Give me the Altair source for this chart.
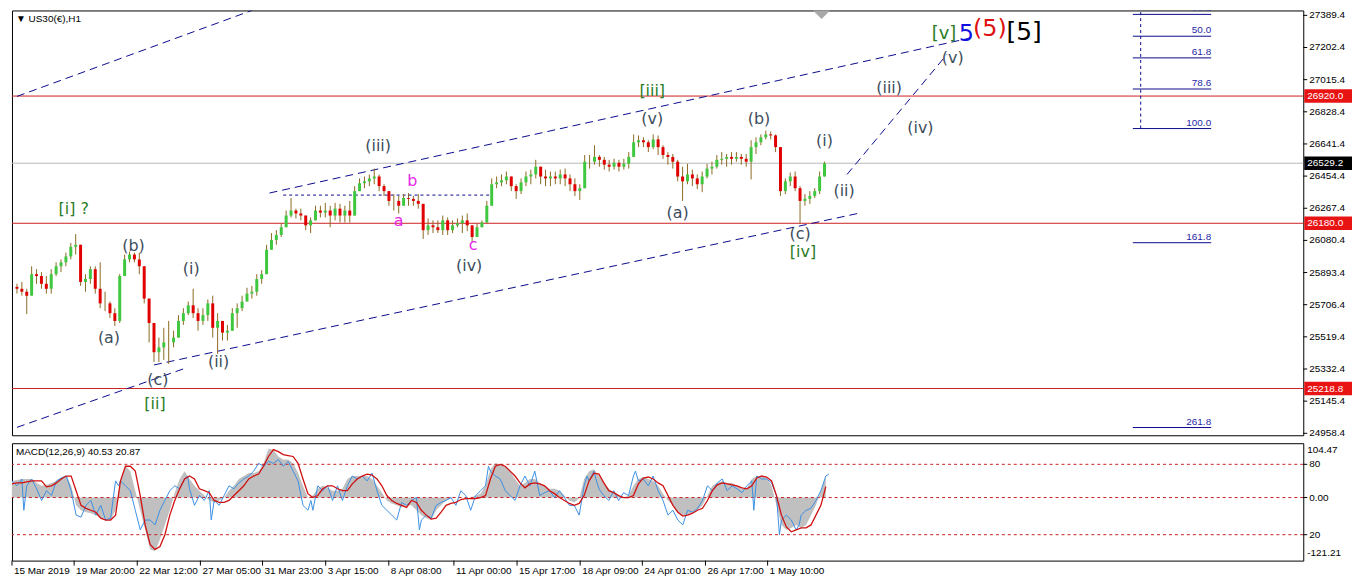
import altair as alt
import pandas as pd

W, HM, HD = 1298, 427, 118
XMAX = 1309
PMIN, PMAX = 24947.0, 27417.8
MMIN, MMAX = -121.21, 104.47
FONT = "Liberation Sans"
WFONT = "DejaVu Sans"

# ---------------- price bars (one bar per 5 hourly slots) ----------------
hours = list(range(0, 826, 5))
highs = [
    25828, 25839, 25799, 25930, 25913, 25896, 25873, 25913, 25953, 25970,
    26009, 26066, 26117, 25970, 25884, 25930, 25930, 25953, 25782, 25725,
    25686, 25884, 25998, 26015, 26009, 26009, 25930, 25742, 25544, 25515,
    25572, 25612, 25555, 25646, 25686, 25725, 25799, 25686, 25686, 25737,
    25759, 25657, 25612, 25589, 25686, 25714, 25759, 25805, 25816, 25884,
    25907, 26055, 26123, 26140, 26180, 26254, 26327, 26265, 26265, 26225,
    26214, 26282, 26282, 26299, 26282, 26299, 26293, 26282, 26310, 26396,
    26441, 26452, 26464, 26498, 26464, 26407, 26367, 26350, 26339, 26350,
    26356, 26339, 26350, 26282, 26208, 26197, 26197, 26225, 26214, 26197,
    26208, 26225, 26237, 26168, 26180, 26197, 26310, 26441, 26452, 26464,
    26481, 26452, 26407, 26441, 26481, 26492, 26549, 26509, 26492, 26481,
    26481, 26492, 26498, 26464, 26441, 26407, 26577, 26577, 26634, 26577,
    26566, 26549, 26555, 26549, 26555, 26594, 26697, 26691, 26680, 26663,
    26697, 26691, 26634, 26594, 26583, 26549, 26509, 26526, 26492, 26464,
    26481, 26526, 26538, 26577, 26594, 26583, 26594, 26594, 26583, 26583,
    26663, 26680, 26697, 26719, 26714, 26697, 26623, 26441, 26475, 26481,
    26396, 26350, 26367, 26384, 26481, 26538]
lows = [
    25771, 25759, 25652, 25816, 25828, 25799, 25771, 25771, 25873, 25896,
    25930, 25970, 25998, 25816, 25782, 25828, 25771, 25686, 25669, 25629,
    25583, 25600, 25873, 25953, 25953, 25884, 25714, 25487, 25373, 25373,
    25385, 25362, 25458, 25515, 25589, 25646, 25629, 25555, 25589, 25612,
    25515, 25419, 25498, 25498, 25572, 25572, 25669, 25725, 25742, 25759,
    25828, 25884, 26026, 26055, 26100, 26157, 26214, 26208, 26197, 26140,
    26123, 26197, 26214, 26214, 26157, 26197, 26185, 26185, 26185, 26282,
    26367, 26384, 26396, 26407, 26367, 26339, 26282, 26254, 26237, 26282,
    26282, 26282, 26265, 26089, 26112, 26123, 26123, 26112, 26112, 26123,
    26157, 26123, 26134, 26072, 26100, 26157, 26180, 26282, 26384, 26396,
    26407, 26367, 26322, 26350, 26396, 26407, 26441, 26407, 26396, 26396,
    26407, 26407, 26396, 26367, 26339, 26316, 26384, 26498, 26521, 26509,
    26492, 26481, 26492, 26481, 26492, 26498, 26577, 26623, 26623, 26594,
    26611, 26577, 26555, 26521, 26498, 26424, 26310, 26407, 26396, 26379,
    26361, 26441, 26464, 26498, 26521, 26509, 26521, 26538, 26521, 26509,
    26435, 26583, 26634, 26668, 26668, 26594, 26339, 26350, 26396, 26367,
    26180, 26282, 26293, 26327, 26350, 26452]
closes = [
    25799, 25782, 25759, 25884, 25873, 25828, 25799, 25884, 25930, 25953,
    25987, 26043, 26055, 25839, 25856, 25913, 25799, 25714, 25714, 25657,
    25612, 25873, 25970, 25998, 25970, 25930, 25742, 25600, 25430, 25458,
    25487, 25487, 25515, 25612, 25657, 25703, 25657, 25612, 25646, 25714,
    25572, 25612, 25544, 25555, 25657, 25686, 25725, 25771, 25782, 25856,
    25884, 26026, 26083, 26112, 26157, 26225, 26254, 26237, 26225, 26168,
    26197, 26254, 26242, 26254, 26225, 26265, 26225, 26254, 26225, 26367,
    26413, 26424, 26441, 26452, 26396, 26367, 26310, 26310, 26282, 26327,
    26322, 26310, 26293, 26140, 26168, 26157, 26140, 26197, 26140, 26168,
    26180, 26197, 26168, 26100, 26157, 26185, 26282, 26407, 26418, 26430,
    26452, 26396, 26367, 26418, 26452, 26464, 26509, 26452, 26441, 26452,
    26441, 26464, 26441, 26407, 26367, 26384, 26538, 26538, 26566, 26549,
    26521, 26509, 26532, 26509, 26526, 26566, 26651, 26663, 26651, 26623,
    26668, 26623, 26577, 26566, 26538, 26452, 26424, 26464, 26441, 26407,
    26452, 26498, 26509, 26549, 26555, 26566, 26555, 26566, 26555, 26538,
    26623, 26651, 26680, 26697, 26691, 26623, 26367, 26424, 26452, 26384,
    26310, 26322, 26339, 26367, 26452, 26529]
first_open = 25810
assert len(highs) == len(lows) == len(closes) == len(hours)

# ---------------- MACD ----------------
macd_hist = [
    32.0, 33.8, 35.7, 35.7, 35.7, 28.2, 22.6, 24.4, 28.2, 32.0,
    37.6, 43.2, 22.6, -15.0, -24.4, -28.2, -30.1, -33.8, -39.5, -41.4,
    -43.2, -24.4, 32.0, 60.2, 50.8, 13.2, -24.4, -62.0, -99.6, -103.4,
    -80.8, -52.6, -24.4, 9.4, 35.7, 50.8, 35.7, 22.6, 13.2, 3.8,
    -5.6, -9.4, -5.6, 0.0, 13.2, 22.6, 35.7, 41.4, 47.0, 47.0,
    50.8, 65.8, 94.0, 92.1, 79.0, 73.3, 73.3, 65.8, 47.0, 22.6,
    0.0, 3.8, 16.9, 22.6, 18.8, 13.2, 13.2, 16.9, 35.7, 41.4,
    41.4, 41.4, 41.4, 35.7, 22.6, 9.4, -5.6, -11.3, -15.0, -18.8,
    -15.0, -15.0, -24.4, -33.8, -39.5, -43.2, -24.4, -15.0, -5.6, -1.9,
    0.0, 0.0, 0.0, 0.0, 3.8, 7.5, 22.6, 54.5, 65.8, 63.9,
    60.2, 50.8, 35.7, 22.6, 28.2, 35.7, 35.7, 28.2, 22.6, 16.9,
    16.9, 13.2, 3.8, -5.6, -9.4, -1.9, 35.7, 50.8, 54.5, 41.4,
    28.2, 16.9, 9.4, 3.8, 0.0, 3.8, 22.6, 35.7, 39.5, 35.7,
    32.0, 22.6, 7.5, -5.6, -15.0, -28.2, -33.8, -33.8, -28.2, -24.4,
    -15.0, 3.8, 22.6, 28.2, 32.0, 28.2, 28.2, 22.6, 16.9, 16.9,
    35.7, 41.4, 41.4, 37.6, 22.6, -15.0, -52.6, -62.0, -58.3, -52.6,
    -58.3, -52.6, -33.8, -15.0, 13.2, 40.5]
macd_signal = [
    26.3, 28.2, 28.2, 30.1, 32.0, 32.0, 32.0, 20.7, 22.6, 28.2,
    35.7, 41.4, 41.4, 13.2, -15.0, -20.7, -24.4, -28.2, -39.5, -43.2,
    -43.2, -33.8, 32.0, 60.2, 60.2, 50.8, 3.8, -52.6, -90.2, -99.6,
    -94.0, -71.4, -33.8, -5.6, 16.9, 35.7, 41.4, 35.7, 16.9, 13.2,
    9.4, -5.6, -9.4, -9.4, -5.6, 3.8, 13.2, 22.6, 35.7, 41.4,
    45.1, 60.2, 79.0, 92.1, 88.4, 82.7, 80.8, 79.0, 65.8, 35.7,
    7.5, 0.0, 3.8, 16.9, 22.6, 22.6, 16.9, 13.2, 13.2, 26.3,
    35.7, 41.4, 45.1, 43.2, 35.7, 22.6, 3.8, -5.6, -11.3, -15.0,
    -18.8, -5.6, -9.4, -24.4, -33.8, -41.4, -39.5, -28.2, -15.0, -11.3,
    -9.4, -3.8, -1.9, -1.9, -1.9, 0.0, 3.8, 35.7, 60.2, 63.9,
    60.2, 50.8, 41.4, 28.2, 18.8, 26.3, 28.2, 26.3, 22.6, 13.2,
    7.5, 0.0, -5.6, -11.3, -15.0, -11.3, 3.8, 32.0, 47.0, 45.1,
    28.2, 13.2, 9.4, 3.8, 0.0, 0.0, 3.8, 26.3, 37.6, 39.5,
    35.7, 28.2, 22.6, 3.8, -15.0, -28.2, -35.7, -33.8, -30.1, -24.4,
    -20.7, -5.6, 13.2, 24.4, 28.2, 26.3, 24.4, 22.6, 18.8, 16.9,
    22.6, 37.6, 41.4, 39.5, 32.0, 3.8, -33.8, -56.4, -65.8, -62.0,
    -58.3, -58.3, -52.6, -33.8, -15.0, 20.9]
assert len(macd_hist) == len(macd_signal) == len(hours)

blue_line = [
    (0, 32.0), (5, 22.6), (10, 35.7), (12, -24.4), (15, 22.6), (20, 35.7), (25, 16.9), (30, -5.6),
    (35, 13.2), (40, 3.8), (45, 32.0), (50, 37.6), (55, 41.4), (60, 13.2), (65, -33.8), (70, -37.6),
    (75, -15.0), (80, -5.6), (85, -33.8), (90, -15.0), (95, -43.2), (100, -39.5), (105, 32.0), (108, 22.6),
    (110, 32.0), (115, 22.6), (120, 13.2), (125, -24.4), (130, -62.0), (135, -43.2), (140, -43.2), (145, -52.6),
    (150, -24.4), (155, -5.6), (160, 13.2), (165, 22.6), (170, 16.9), (175, 35.7), (178, 41.4), (180, 16.9),
    (185, -15.0), (190, 3.8), (195, -5.6), (200, 13.2), (202, -43.2), (205, -5.6), (210, -15.0), (215, 3.8),
    (220, 22.6), (225, 16.9), (230, 28.2), (235, 35.7), (240, 41.4), (245, 50.8), (250, 65.8), (255, 60.2),
    (260, 69.6), (265, 65.8), (270, 73.3), (275, 60.2), (280, 69.6), (285, 50.8), (290, 32.0), (295, -15.0),
    (300, -24.4), (303, -5.6), (305, -24.4), (310, 22.6), (315, 13.2), (320, 22.6), (325, -5.6), (330, 22.6),
    (335, -5.6), (340, 22.6), (345, 41.4), (350, 35.7), (355, 41.4), (360, 32.0), (365, 47.0), (370, 13.2),
    (375, -15.0), (380, -24.4), (385, -33.8), (390, -43.2), (395, -9.4), (400, -15.0), (405, -5.6), (410, 0.0),
    (413, -62.0), (415, -43.2), (420, -33.8), (425, -39.5), (430, -15.0), (435, -9.4), (440, -5.6), (445, 0.0),
    (450, -15.0), (455, 13.2), (460, 3.8), (465, -24.4), (470, 3.8), (475, 13.2), (480, 22.6), (483, 60.2),
    (485, 50.8), (490, 41.4), (495, 35.7), (500, 13.2), (505, 3.8), (510, -5.6), (515, 22.6), (520, 41.4),
    (525, 22.6), (530, 50.8), (535, 3.8), (540, 9.4), (545, 13.2), (550, 0.0), (555, 13.2), (560, 0.0),
    (565, -15.0), (570, -15.0), (575, -33.8), (580, 22.6), (583, 41.4), (585, 32.0), (590, 50.8), (592, 35.7),
    (595, 16.9), (600, 3.8), (605, -5.6), (610, 13.2), (615, -5.6), (620, 9.4), (625, 3.8), (630, 41.4),
    (632, 50.8), (635, 32.0), (640, 35.7), (645, 22.6), (650, 41.4), (655, 13.2), (660, -5.6), (665, -33.8),
    (670, -24.4), (675, -43.2), (680, -52.6), (685, -24.4), (690, -28.2), (695, -20.7), (700, -5.6), (705, 22.6),
    (710, 13.2), (715, 28.2), (720, 35.7), (725, 13.2), (730, 22.6), (735, 16.9), (740, 9.4), (745, 22.6),
    (750, 32.0), (752, -24.4), (755, 41.4), (760, 35.7), (765, 35.7), (770, 28.2), (775, 3.8), (778, -71.4),
    (780, -43.2), (785, -33.8), (790, -43.2), (795, -62.0), (798, -52.6), (800, -33.8), (805, -24.4), (810, -20.7),
    (815, -5.6), (820, 13.2), (825, 41.4), (828, 45.1)]
macd_levels = [63.9, 0.0, -71.4]
macd_level_labels = ["80", "0.00", "20"]

# ---------------- axes / levels ----------------
price_ticks = [27389.4, 27202.4, 27015.4, 26828.4, 26641.4, 26454.4, 26267.4,
               26080.4, 25893.4, 25706.4, 25519.4, 25332.4, 25145.4, 24958.4]
red_levels = [26920.0, 26180.0, 25218.8]
last_price = 26529.2
date_ticks = [0, 63, 127, 191, 254, 318, 382, 448, 512, 576, 639, 703, 766]
date_labels = ["15 Mar 2019", "19 Mar 20:00", "22 Mar 12:00", "27 Mar 05:00",
               "31 Mar 23:00", "3 Apr 15:00", "8 Apr 08:00", "11 Apr 00:00",
               "15 Apr 17:00", "18 Apr 09:00", "24 Apr 01:00", "26 Apr 17:00",
               "1 May 10:00"]

# trend lines (hour, price) -> (hour, price)
tl_x1 = [0, 0, 140, 258, 848, 272, 1148]
tl_p1 = [26918, 24993, 25356, 26356, 26464, 26344, 26731]
tl_x2 = [240, 170, 863, 975, 950, 483, 1148]
tl_p2 = [27418, 25333, 26242, 27259, 27162, 26344, 27418]
tl_dash = ["long", "long", "long", "long", "long", "short", "short"]

fib_labels = ["38.2", "50.0", "61.8", "78.6", "100.0", "161.8", "261.8"]
fib_prices = [27395, 27268, 27142, 26961, 26731, 26067, 24992]
fib_start, fib_end = 1140, 1220

GRAY, GREEN, MAG = "#3d4d5b", "#2a7d1f", "#e629e6"
wl_text = ["[i] ?", "(b)", "(a)", "(c)", "[ii]", "(i)", "(ii)", "(iii)", "b", "a", "c", "(iv)",
           "[iii]", "(v)", "(a)", "(b)", "(i)", "(ii)", "(c)", "[iv]", "(iii)", "(iv)", "(v)",
           "[v]", "5", "(5)", "[5]"]
wl_x = [58, 119, 94, 144, 141, 178, 206, 369, 404, 390, 466, 462,
        649, 649, 675, 758, 825, 845, 800, 803, 891, 923, 956,
        947, 970, 994, 1029]
wl_p = [26265, 26049, 25510, 25271, 25129, 25913, 25373, 26628, 26424, 26191, 26055, 25930,
        26952, 26788, 26237, 26788, 26657, 26367, 26117, 26015, 26969, 26736, 27140,
        27282, 27282, 27310, 27293]
wl_color = [GREEN, GRAY, GRAY, GRAY, GREEN, GRAY, GRAY, GRAY, MAG, MAG, MAG, GRAY,
            GREEN, GRAY, GRAY, GRAY, GRAY, GRAY, GRAY, GREEN, GRAY, GRAY, GRAY,
            GREEN, "#1010e0", "#e01010", "#000000"]
wl_size = [16] * 23 + [18, 24, 24, 25]

# ---------------- frames ----------------
opens = [first_open] + closes[:-1]
bars = pd.DataFrame({"h": hours, "o": opens, "hi": highs, "lo": lows, "c": closes})
bars["hi"] = bars[["hi", "o", "c"]].max(axis=1)
bars["lo"] = bars[["lo", "o", "c"]].min(axis=1)
bars["dir"] = ["up" if c >= o else "down" for o, c in zip(bars.o, bars.c)]

macd = pd.DataFrame({"h": hours, "hist": macd_hist, "sig": macd_signal})
blue = pd.DataFrame(blue_line, columns=["h", "v"])
trend = pd.DataFrame({"x1": tl_x1, "p1": tl_p1, "x2": tl_x2, "p2": tl_p2, "dash": tl_dash})
fib = pd.DataFrame({"lab": fib_labels, "p": fib_prices,
                    "a": [fib_start] * len(fib_prices), "b": [fib_end] * len(fib_prices)})
waves = pd.DataFrame({"t": wl_text, "h": wl_x, "p": wl_p, "col": wl_color, "s": wl_size})
boxes = pd.DataFrame({"p": red_levels + [last_price],
                      "lab": [f"{v:.1f}" for v in red_levels + [last_price]],
                      "bg": ["#e81414"] * 3 + ["#000000"]})
ptick = pd.DataFrame({"p": price_ticks, "lab": [f"{v:.1f}" for v in price_ticks]})
mlev = pd.DataFrame({"v": macd_levels, "lab": macd_level_labels})
dates = pd.DataFrame({"h": date_ticks, "lab": date_labels})

xs = alt.Scale(domain=[0, XMAX], nice=False, zero=False)
ys = alt.Scale(domain=[PMIN, PMAX], nice=False, zero=False)
ms = alt.Scale(domain=[MMIN, MMAX], nice=False, zero=False)


def X(f):
    return alt.X(f, scale=xs, axis=None)


def YP(f):
    return alt.Y(f, scale=ys, axis=None)


def YM(f):
    return alt.Y(f, scale=ms, axis=None)


txt = dict(font=FONT, fontSize=10, color="black")

# ---------------- main panel ----------------
lvl = alt.Chart(pd.DataFrame({"p": red_levels})).mark_rule(color="#cc2020", strokeWidth=1).encode(
    y=YP("p:Q"))
cur = alt.Chart(pd.DataFrame({"p": [last_price]})).mark_rule(color="#b8b8b8", strokeWidth=1).encode(
    y=YP("p:Q"))
tl = alt.Chart(trend).mark_rule(clip=True, color="#0a0a8c", strokeWidth=1).encode(
    x=X("x1:Q"), x2="x2:Q", y=YP("p1:Q"), y2="p2:Q",
    strokeDash=alt.StrokeDash("dash:N", scale=alt.Scale(domain=["long", "short"],
                                                        range=[[8, 5], [3, 3]]), legend=None))
fibl = alt.Chart(fib).mark_rule(color="#0a0a8c", strokeWidth=1, clip=True).encode(
    x=X("a:Q"), x2="b:Q", y=YP("p:Q"))
fibt = alt.Chart(fib).mark_text(align="right", baseline="bottom", dy=-1, font=FONT, fontSize=10,
                                color="#2626a6", clip=True).encode(
    x=X("b:Q"), y=YP("p:Q"), text="lab:N")
wick = alt.Chart(bars).mark_rule(color="#8c6a22", strokeWidth=1).encode(
    x=X("h:Q"), y=YP("lo:Q"), y2="hi:Q")
body = alt.Chart(bars).mark_bar(size=3).encode(
    x=X("h:Q"), y=YP("o:Q"), y2="c:Q",
    color=alt.Color("dir:N", scale=alt.Scale(domain=["up", "down"], range=["#3fc83f", "#e00000"]),
                    legend=None))
wtxt = alt.Chart(waves).mark_text(font=WFONT, align="center", baseline="middle").encode(
    x=X("h:Q"), y=YP("p:Q"), text="t:N",
    color=alt.Color("col:N", scale=None), size=alt.Size("s:Q", scale=None))
marker = alt.Chart(pd.DataFrame({"h": [822], "p": [PMAX]})).mark_point(
    shape="diamond", filled=True, color="#a8a8a8", size=300, opacity=1, clip=True).encode(
    x=X("h:Q"), y=YP("p:Q"))
title = alt.Chart(pd.DataFrame({"t": ["\u25bc US30(\u20ac),H1"]})).mark_text(
    align="left", baseline="middle", **txt).encode(x=alt.value(4), y=alt.value(9), text="t:N")
# right price scale
pt_tick = alt.Chart(ptick).mark_rule(color="black").encode(
    x=alt.value(W), x2=alt.value(W + 4), y=YP("p:Q"))
pt_lab = alt.Chart(ptick).mark_text(align="left", baseline="middle", **txt).encode(
    x=alt.value(W + 6), y=YP("p:Q"), text="lab:N")
boxr = alt.Chart(boxes).mark_point(shape="M-1,-0.28H1V0.28H-1Z", size=48 * 48, filled=True,
                                   opacity=1, strokeWidth=0).encode(
    x=alt.value(W + 25), y=YP("p:Q"), color=alt.Color("bg:N", scale=None))
boxt = alt.Chart(boxes).mark_text(align="left", baseline="middle", font=FONT, fontSize=10,
                                  color="white").encode(
    x=alt.value(W + 4), y=YP("p:Q"), text="lab:N")

main = alt.layer(lvl, cur, tl, fibl, fibt, wick, body, wtxt, marker, title,
                 pt_tick, pt_lab, boxr, boxt).properties(width=W, height=HM)

# ---------------- MACD panel ----------------
hist = alt.Chart(macd).mark_area(color="#c0c0c0", opacity=1).encode(
    x=X("h:Q"), y=YM("hist:Q"), y2=alt.datum(0))
mlv = alt.Chart(mlev).mark_rule(color="#c82020", strokeDash=[3, 3], strokeWidth=1).encode(
    y=YM("v:Q"))
mlv_tick = alt.Chart(mlev).mark_rule(color="black").encode(
    x=alt.value(W), x2=alt.value(W + 4), y=YM("v:Q"))
mlv_lab = alt.Chart(mlev).mark_text(align="left", baseline="middle", **txt).encode(
    x=alt.value(W + 6), y=YM("v:Q"), text="lab:N")
bl = alt.Chart(blue).mark_line(color="#3b8fe3", strokeWidth=1).encode(x=X("h:Q"), y=YM("v:Q"))
sg = alt.Chart(macd).mark_line(color="#d01010", strokeWidth=1.3).encode(x=X("h:Q"), y=YM("sig:Q"))
mtitle = alt.Chart(pd.DataFrame({"t": ["MACD(12,26,9) 40.53 20.87"]})).mark_text(
    align="left", baseline="middle", **txt).encode(x=alt.value(4), y=alt.value(9), text="t:N")
mtop = alt.Chart(pd.DataFrame({"t": ["104.47"]})).mark_text(
    align="left", baseline="middle", **txt).encode(x=alt.value(W + 4), y=alt.value(7), text="t:N")
mbot = alt.Chart(pd.DataFrame({"t": ["-121.21"]})).mark_text(
    align="left", baseline="middle", **txt).encode(x=alt.value(W + 4), y=alt.value(HD - 8), text="t:N")
# time axis under the panel
dt_tick = alt.Chart(dates).mark_rule(color="black").encode(
    x=X("h:Q"), y=alt.value(HD), y2=alt.value(HD + 5))
dt_lab = alt.Chart(dates).mark_text(align="left", baseline="top", dx=2, **txt).encode(
    x=X("h:Q"), y=alt.value(HD + 5), text="lab:N")

macd_panel = alt.layer(hist, mlv, bl, sg, mtitle, mlv_tick, mlv_lab, mtop, mbot,
                       dt_tick, dt_lab).properties(width=W, height=HD)

chart = alt.vconcat(main, macd_panel, spacing=3, padding=0, background="white").configure_view(
    stroke="black", strokeWidth=1)

chart.save("out.html", embed_options={"renderer": "svg", "actions": False})
